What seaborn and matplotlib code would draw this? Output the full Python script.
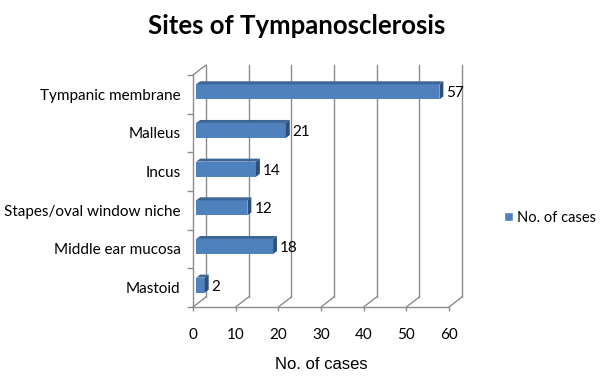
import numpy as np
import pandas as pd
import matplotlib
matplotlib.use('Agg')
import matplotlib.pyplot as plt
from matplotlib.patches import Polygon, Patch
import seaborn as sns

sites = ['Tympanic membrane', 'Malleus', 'Incus', 'Stapes/oval window niche',
         'Middle ear mucosa', 'Mastoid']
cases = [57, 21, 14, 12, 18, 2]
x_ticks = [0, 10, 20, 30, 40, 50, 60]
series_name = 'No. of cases'

FACE = '#4F81BD'
TOP = '#3D6696'
SIDE = '#2E4F7C'
GRID = '#8C8C8C'

# fake 3D depth (full depth in data units)
DX = 3.05    # value units
DY = 0.2586  # category units
d0, d1 = 0.25, 0.55

sns.set_theme(style='white')
plt.rcParams['font.family'] = ['Lato', 'DejaVu Sans']
plt.rcParams['text.color'] = 'black'
plt.rcParams['xtick.color'] = 'black'
plt.rcParams['ytick.color'] = 'black'
plt.rcParams['axes.labelcolor'] = 'black'

fig = plt.figure(figsize=(6, 3.81), dpi=100)
ax = fig.add_axes([193 / 600, 1 - 307 / 381, 256 / 600, 232 / 381])

df = pd.DataFrame({'site': sites, 'cases': cases})
sns.barplot(data=df, x='cases', y='site', orient='h', color=FACE,
            saturation=1, width=0.39, ax=ax, zorder=3)
ax.set_xlim(0, 60)
ax.set_ylim(5.5, -0.5)

bars = list(ax.patches)
for p in bars:
    p.set_x(p.get_x() + d0 * DX)
    p.set_y(p.get_y() - d0 * DY)
    p.set_edgecolor('none')
    x0, y0, w, h = p.get_x(), p.get_y(), p.get_width(), p.get_height()
    ddx, ddy = (d1 - d0) * DX, (d1 - d0) * DY
    top = Polygon([(x0, y0), (x0 + w, y0), (x0 + w + ddx, y0 - ddy), (x0 + ddx, y0 - ddy)],
                  closed=True, facecolor=TOP, edgecolor='none', zorder=3, clip_on=False)
    side = Polygon([(x0 + w, y0), (x0 + w, y0 + h), (x0 + w + ddx, y0 + h - ddy),
                    (x0 + w + ddx, y0 - ddy)],
                   closed=True, facecolor=SIDE, edgecolor='none', zorder=3, clip_on=False)
    ax.add_patch(top)
    ax.add_patch(side)
    ax.text(x0 + w + ddx + 0.7, y0 + h / 2 + 0.04, str(int(w)), ha='left', va='center',
            fontsize=11, color='black', zorder=4)

# back wall grid + floor diagonals
ytop, ybot = -0.5, 5.5
for v in x_ticks:
    ax.plot([v + DX, v + DX], [ybot - DY, ytop - DY], color=GRID, lw=1, zorder=1, clip_on=False)
    ax.plot([v, v + DX], [ybot, ybot - DY], color=GRID, lw=1, zorder=1, clip_on=False)
# left wall top edge
ax.plot([0, DX], [ytop, ytop - DY], color=GRID, lw=1, zorder=1, clip_on=False)

for s in ['top', 'right']:
    ax.spines[s].set_visible(False)
for s in ['left', 'bottom']:
    ax.spines[s].set_color(GRID)
    ax.spines[s].set_linewidth(1)
    ax.spines[s].set_zorder(2)

ax.set_xticks(x_ticks)
ax.set_xticklabels([str(v) for v in x_ticks])
ax.set_yticks(range(len(sites)))
ax.set_yticklabels(sites)
ax.set_yticks(np.arange(-0.5, len(sites)), minor=True)
ax.tick_params(axis='y', which='major', length=0, pad=9, labelsize=11)
ax.tick_params(axis='y', which='minor', length=4, color=GRID, width=1, left=True)
ax.tick_params(axis='x', which='major', length=3, color=GRID, width=1, pad=12,
               labelsize=11, bottom=True)
ax.set_ylabel('')
ax.set_xlabel(series_name, fontsize=12, family=['Liberation Sans', 'DejaVu Sans'], labelpad=11)

fig.suptitle('Sites of Tympanosclerosis', fontsize=18.5, fontweight='bold', x=0.495, y=0.962)

fig.legend(handles=[Patch(facecolor=FACE, label=series_name)], loc='center left',
           bbox_to_anchor=(491 / 600, 1 - 218 / 381), frameon=False, fontsize=10.5,
           handlelength=0.6, handleheight=0.6, handletextpad=0.3)

fig.savefig('out.png', dpi=100)
